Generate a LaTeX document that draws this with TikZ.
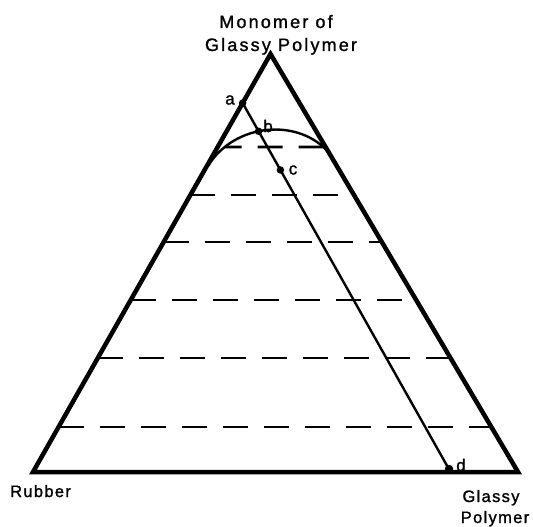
\documentclass[tikz,border=0pt]{standalone}
\usepackage{fontspec}
\setmainfont{Liberation Sans}
\newfontfamily\labfont[LetterSpace=8,FakeBold=1.2]{Liberation Sans}
\newfontfamily\topfont[LetterSpace=12,FakeBold=1.2]{Liberation Sans}
\usetikzlibrary{calc,intersections}
\begin{document}
\begin{tikzpicture}[x=1pt,y=-1pt,
  edge/.style={line width=4.5pt,line join=miter},
  tieln/.style={line width=2.4pt},
  domeln/.style={line width=2.4pt},
  dashtie/.style={line width=2.8pt,dash pattern=on 25pt off 16pt},
  dot/.style={circle,fill,inner sep=0pt,minimum size=7.5pt},
  lab/.style={font=\labfont\fontsize{16.5}{20}\selectfont,inner sep=0pt},
  toplab/.style={font=\topfont\fontsize{18}{22}\selectfont,inner sep=0pt},
  ptlab/.style={font=\labfont\fontsize{17}{20}\selectfont,inner sep=0pt}]
\useasboundingbox (0,0) rectangle (533,527);
% triangle corners
\coordinate (M) at (270.5,54);
\coordinate (R) at (33,472);
\coordinate (G) at (518,472);
\draw[edge] (R) -- (M) -- (G) -- cycle;
% corner labels
\node[toplab,anchor=base] (mon1) at (276,28) {Monomer of};
\node[toplab,anchor=base] (mon2) at (281,51) {Glassy Polymer};
\node[lab,anchor=base west] (rub) at (10,497) {Rubber};
\node[lab,anchor=base] (gl1) at (491,502) {Glassy};
\node[lab,anchor=base] (gl2) at (495,523) {Polymer};
% binodal dome
\coordinate (dl) at (208,166);
\coordinate (dr) at (329,153);
\draw[domeln,name path=dome] (dl) .. controls (235,122) and (300,118) .. (dr);
% tie line a--d
\coordinate (pa) at ($(R)!{(472-103)/418}!(M)$);
\coordinate (pd) at (450,471);
\path[name path=tl] (pa) -- (pd);
\path[name intersections={of=tl and dome,by=pb}];
\coordinate (pc) at ($(pa)!{(170-103)/368}!(pd)$);
\draw[tieln] (pa) -- (pd);
% dashed tie lines
\path[name path=h0] (150,147) -- (400,147);
\path[name intersections={of=h0 and dome,by={h0a,h0b},sort by=h0}];
\draw[dashtie,dash phase=8pt] (h0a) -- (h0b);
\foreach \yy [count=\i] in {195,242,300,358,427}{
  \pgfmathsetmacro\tval{(472-\yy)/418}
  \coordinate (L\i) at ($(R)!\tval!(M)$);
  \coordinate (Q\i) at ($(G)!\tval!(M)$);
  \draw[dashtie] (L\i) -- (Q\i);
}
% points
\node[dot] (a) at (pa) {};
\node[dot] (b) at (pb) {};
\node[dot] (c) at (pc) {};
\node[dot,minimum size=8.5pt] (d) at ($(pd)+(-1,-2)$) {};
\node[ptlab] (la) at (230,100) {a};
\node[ptlab] (lb) at (268,126) {b};
\node[ptlab] (lc) at (293,170) {c};
\node[ptlab] (ld) at (461,465) {d};
\end{tikzpicture}
\end{document}
